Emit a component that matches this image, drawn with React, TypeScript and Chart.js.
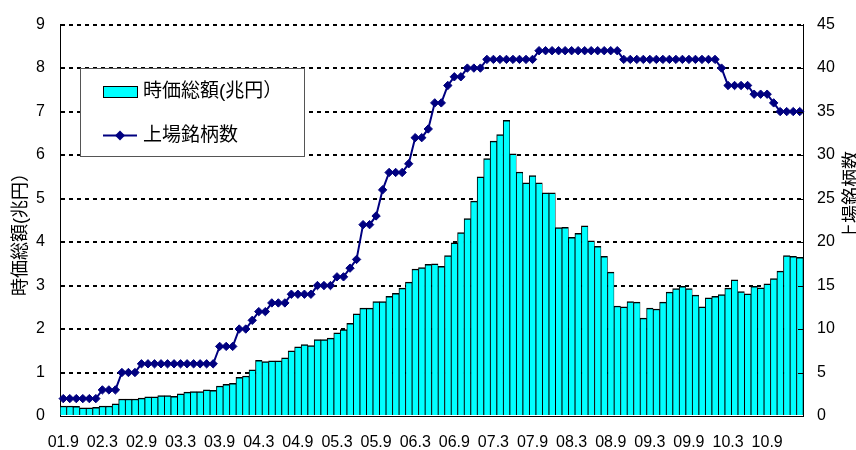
import React, { useEffect, useRef } from "react";
import { Chart, registerables } from "chart.js";

Chart.register(...registerables);

const CATEGORIES: string[] = (
  "01.9 01.10 01.11 01.12 " +
  "02.1 02.2 02.3 02.4 02.5 02.6 02.7 02.8 02.9 02.10 02.11 02.12 " +
  "03.1 03.2 03.3 03.4 03.5 03.6 03.7 03.8 03.9 03.10 03.11 03.12 " +
  "04.1 04.2 04.3 04.4 04.5 04.6 04.7 04.8 04.9 04.10 04.11 04.12 " +
  "05.1 05.2 05.3 05.4 05.5 05.6 05.7 05.8 05.9 05.10 05.11 05.12 " +
  "06.1 06.2 06.3 06.4 06.5 06.6 06.7 06.8 06.9 06.10 06.11 06.12 " +
  "07.1 07.2 07.3 07.4 07.5 07.6 07.7 07.8 07.9 07.10 07.11 07.12 " +
  "08.1 08.2 08.3 08.4 08.5 08.6 08.7 08.8 08.9 08.10 08.11 08.12 " +
  "09.1 09.2 09.3 09.4 09.5 09.6 09.7 09.8 09.9 09.10 09.11 09.12 " +
  "10.1 10.2 10.3 10.4 10.5 10.6 10.7 10.8 10.9 10.10 10.11 10.12 " +
  "11.1 11.2"
).split(" ");

const TICK_LABELS: string[] = [
  "01.9", "02.3", "02.9", "03.3", "03.9", "04.3", "04.9", "05.3", "05.9", "06.3",
  "06.9", "07.3", "07.9", "08.3", "08.9", "09.3", "09.9", "10.3", "10.9",
];

// 時価総額 (兆円)
const MARKET_CAP: number[] = [
  0.23, 0.23, 0.22, 0.19, 0.19, 0.2, 0.23, 0.23, 0.28, 0.39,
  0.39, 0.39, 0.41, 0.44, 0.44, 0.47, 0.47, 0.45, 0.51, 0.55,
  0.56, 0.56, 0.6, 0.59, 0.69, 0.73, 0.75, 0.89, 0.92, 1.06,
  1.28, 1.25, 1.27, 1.27, 1.34, 1.5, 1.59, 1.64, 1.62, 1.76,
  1.76, 1.79, 1.91, 1.99, 2.13, 2.35, 2.48, 2.48, 2.63, 2.63,
  2.75, 2.82, 2.94, 3.08, 3.38, 3.41, 3.49, 3.5, 3.44, 3.69,
  3.98, 4.22, 4.54, 4.94, 5.5, 5.92, 6.32, 6.47, 6.8, 6.03,
  5.61, 5.36, 5.53, 5.36, 5.13, 5.13, 4.33, 4.34, 4.11, 4.2,
  4.37, 4.03, 3.9, 3.67, 3.31, 2.53, 2.51, 2.63, 2.62, 2.25,
  2.48, 2.46, 2.62, 2.85, 2.93, 2.98, 2.93, 2.78, 2.51, 2.72,
  2.75, 2.79, 2.94, 3.13, 2.86, 2.81, 2.98, 2.95, 3.04, 3.16,
  3.33, 3.69, 3.67, 3.65,
];

// 上場銘柄数
const LISTED: number[] = [
  2, 2, 2, 2, 2, 2, 3, 3, 3, 5,
  5, 5, 6, 6, 6, 6, 6, 6, 6, 6,
  6, 6, 6, 6, 8, 8, 8, 10, 10, 11,
  12, 12, 13, 13, 13, 14, 14, 14, 14, 15,
  15, 15, 16, 16, 17, 18, 22, 22, 23, 26,
  28, 28, 28, 29, 32, 32, 33, 36, 36, 38,
  39, 39, 40, 40, 40, 41, 41, 41, 41, 41,
  41, 41, 41, 42, 42, 42, 42, 42, 42, 42,
  42, 42, 42, 42, 42, 42, 41, 41, 41, 41,
  41, 41, 41, 41, 41, 41, 41, 41, 41, 41,
  41, 40, 38, 38, 38, 38, 37, 37, 37, 36,
  35, 35, 35, 35,
];

const LEFT_TICKS: number[] = [0, 1, 2, 3, 4, 5, 6, 7, 8, 9];
const RIGHT_TICKS: number[] = [0, 5, 10, 15, 20, 25, 30, 35, 40, 45];

const BAR_LABEL = "時価総額(兆円）";
const LINE_LABEL = "上場銘柄数";
const LEFT_TITLE = "時価総額(兆円）";
const RIGHT_TITLE = "上場銘柄数";

const NUM_FONT = '"Liberation Sans", Arial, "Noto Sans CJK JP", sans-serif';
const JP_FONT = '"Liberation Sans", "Noto Sans CJK JP", sans-serif';
const CYAN = "#00FFFF";
const NAVY = "#000080";

const overlayPlugin = {
  id: "overlay",
  afterDraw(chart: any) {
    const ctx: CanvasRenderingContext2D = chart.ctx;
    const area = chart.chartArea;
    const y1 = chart.scales.y1;
    ctx.save();

    // inward tick marks on secondary axis
    ctx.strokeStyle = "#000";
    ctx.lineWidth = 1;
    for (const v of RIGHT_TICKS) {
      const y = Math.round(y1.getPixelForValue(v)) + 0.5;
      ctx.beginPath();
      ctx.moveTo(area.right - 5, y);
      ctx.lineTo(area.right, y);
      ctx.stroke();
    }

    // legend box
    const bx = 80.5, by = 68.5, bw = 224, bh = 88;
    ctx.fillStyle = "#fff";
    ctx.fillRect(bx, by, bw, bh);
    ctx.strokeStyle = "#555";
    ctx.lineWidth = 1;
    ctx.strokeRect(bx, by, bw, bh);

    // bar swatch
    ctx.fillStyle = CYAN;
    ctx.fillRect(103.5, 86.5, 34, 11);
    ctx.strokeStyle = "#000";
    ctx.strokeRect(103.5, 86.5, 34, 11);

    // line swatch
    ctx.strokeStyle = NAVY;
    ctx.lineWidth = 2;
    ctx.beginPath();
    ctx.moveTo(103, 135.5);
    ctx.lineTo(137, 135.5);
    ctx.stroke();
    ctx.fillStyle = NAVY;
    ctx.beginPath();
    ctx.moveTo(120 - 5, 135.5);
    ctx.lineTo(120, 130.5);
    ctx.lineTo(120 + 5, 135.5);
    ctx.lineTo(120, 140.5);
    ctx.closePath();
    ctx.fill();

    ctx.fillStyle = "#000";
    ctx.font = `19px ${JP_FONT}`;
    ctx.textAlign = "left";
    ctx.textBaseline = "middle";
    ctx.fillText(BAR_LABEL, 143, 92);
    ctx.fillText(LINE_LABEL, 143, 135.5);

    // axis titles
    ctx.font = `18px ${JP_FONT}`;
    ctx.textAlign = "center";
    ctx.save();
    ctx.translate(21, 230);
    ctx.rotate(-Math.PI / 2);
    ctx.fillText(LEFT_TITLE, 0, 0);
    ctx.restore();
    ctx.save();
    ctx.translate(852, 196);
    ctx.rotate(-Math.PI / 2);
    ctx.fillText(RIGHT_TITLE, 0, 0);
    ctx.restore();

    ctx.restore();
  },
};

export default function App() {
  const ref = useRef<HTMLCanvasElement>(null);
  useEffect(() => {
    document.body.style.margin = "0";
    const chart = new Chart(ref.current as HTMLCanvasElement, {
      type: "bar",
      data: {
        labels: CATEGORIES,
        datasets: [
          {
            type: "bar",
            label: BAR_LABEL,
            data: MARKET_CAP,
            yAxisID: "y",
            backgroundColor: CYAN,
            borderColor: "#000",
            borderWidth: { top: 1.5, left: 1, right: 0.6, bottom: 0 },
            barPercentage: 1,
            categoryPercentage: 1,
            order: 2,
          } as any,
          {
            type: "line",
            label: LINE_LABEL,
            data: LISTED,
            yAxisID: "y1",
            borderColor: NAVY,
            backgroundColor: NAVY,
            borderWidth: 2,
            pointStyle: "rectRot",
            pointRadius: 4.2,
            pointBorderWidth: 1,
            pointBackgroundColor: NAVY,
            pointBorderColor: NAVY,
            tension: 0,
            order: 1,
          } as any,
        ],
      },
      options: {
        responsive: false,
        animation: false,
        layout: { padding: { top: 20, left: 0, right: 0, bottom: 0 } },
        plugins: { legend: { display: false }, tooltip: { enabled: false } },
        scales: {
          x: {
            grid: { display: false },
            border: { display: true, color: "#000", width: 1 },
            ticks: {
              autoSkip: false,
              maxRotation: 0,
              minRotation: 0,
              padding: 9,
              color: "#000",
              font: { family: NUM_FONT, size: 16 },
              callback: (_v: any, i: number) => {
                const l = CATEGORIES[i];
                return TICK_LABELS.includes(l) ? l : "";
              },
            },
            afterFit: (s: any) => {
              s.height = 34;
            },
          },
          y: {
            position: "left",
            min: LEFT_TICKS[0],
            max: LEFT_TICKS[LEFT_TICKS.length - 1],
            ticks: {
              stepSize: 1,
              padding: 15,
              color: "#000",
              font: { family: NUM_FONT, size: 16 },
            },
            grid: {
              drawTicks: false,
              lineWidth: 2,
              color: (c: any) => (c.tick && c.tick.value === 0 ? "rgba(0,0,0,0)" : "#000"),
            },
            border: { display: true, color: "#000", width: 1, dash: [4, 4] },
            afterFit: (s: any) => {
              s.width = 60;
            },
          },
          y1: {
            position: "right",
            min: RIGHT_TICKS[0],
            max: RIGHT_TICKS[RIGHT_TICKS.length - 1],
            ticks: {
              stepSize: 5,
              padding: 14,
              color: "#000",
              font: { family: NUM_FONT, size: 16 },
            },
            grid: { drawOnChartArea: false, drawTicks: false },
            border: { display: true, color: "#000", width: 1 },
            afterFit: (s: any) => {
              s.width = 53;
            },
          },
        },
      } as any,
      plugins: [overlayPlugin],
    });
    return () => chart.destroy();
  }, []);
  return (
    <div style={{ width: 856, height: 450 }}>
      <canvas ref={ref} width={856} height={450} />
    </div>
  );
}
